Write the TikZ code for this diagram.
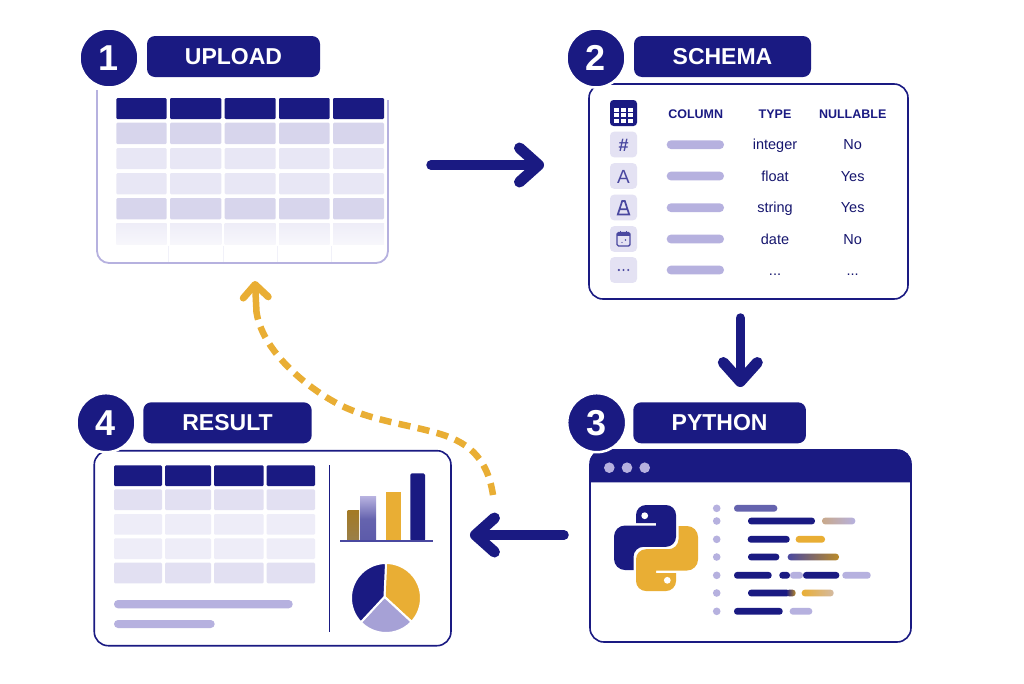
\documentclass[tikz,border=0pt]{standalone}
\usepackage{fontspec}
\setmainfont{Liberation Sans}
\usetikzlibrary{positioning, arrows.meta, calc}

\definecolor{navy}{HTML}{1A1A82}
\definecolor{gold}{HTML}{E9AE34}
\definecolor{lilac}{HTML}{B6B1DF}
\definecolor{rowA}{HTML}{D7D5EC}
\definecolor{rowB}{HTML}{E8E7F5}
\definecolor{rowC}{HTML}{E2E0F2}
\definecolor{rowD}{HTML}{EEEDF8}
\definecolor{iconbg}{HTML}{E4E2F3}
\definecolor{iconfg}{HTML}{4A48A0}
\definecolor{tan}{HTML}{C9A98A}

\newcommand{\more}{...}

\tikzset{
  panel/.style={draw=navy, line width=1.6pt, rounded corners=14pt, fill=white, inner sep=0pt, outer sep=0pt},
  badge/.style={circle, fill=navy, draw=white, line width=2.5pt, minimum size=59pt, inner sep=0pt, text=white, font=\bfseries\fontsize{36}{38}\selectfont},
  pill/.style={fill=navy, rounded corners=8pt, minimum height=41pt, inner sep=0pt, text=white, font=\bfseries\fontsize{23}{25}\selectfont},
  cell/.style={rounded corners=1.2pt},
  headtext/.style={text=navy, font=\bfseries\fontsize{12.5}{14}\selectfont},
  rowtext/.style={text=navy!85!black, font=\fontsize{14.5}{16}\selectfont, text height=10.4pt, text depth=0pt},
  icontext/.style={text=iconfg, font=\fontsize{19}{21}\selectfont},
  flow/.style={draw=navy, line width=9.5pt, line cap=round, -{Straight Barb[round, length=19pt, width=34pt, line width=11pt]}},
  backflow/.style={draw=gold, line width=6.5pt},
}

\begin{document}
\begin{tikzpicture}[x=1pt, y=-1pt]
    \useasboundingbox (0,0) rectangle (1024,683);

    % Panels
    \node[minimum width=291pt, minimum height=175pt, inner sep=0pt, outer sep=0pt] (upload) at (242.5,175.5) {};
    \node[panel, minimum width=319pt, minimum height=215pt] (schema) at (748.5,191.5) {};
    \node[panel, minimum width=321pt, minimum height=192pt] (python) at (750.5,546) {};
    \node[panel, minimum width=356.7pt, minimum height=195pt] (result) at (272.6,548.2) {};

    % Open border of the upload panel
    \draw[lilac, line width=1.8pt, rounded corners=12pt] (97,90) -- (97,263) -- (388,263) -- (388,100);

    % Upload table
    \foreach \xa/\xb in {116.3/166.7, 170/221.3, 224.7/275.7, 279/329.7, 333/384} {
      \fill[navy, cell] (\xa,98) rectangle (\xb,119);
      \foreach \ya/\yb/\c in {122.7/144/rowA, 148/169/rowB, 173/194.3/rowB, 198/219.3/rowA} {
        \fill[\c, cell] (\xa,\ya) rectangle (\xb,\yb);
      }
      \shade[top color=rowB!75!white, bottom color=rowB!35!white] (\xa,223.3) rectangle (\xb,244);
    }
    \foreach \x in {168.5, 223, 277.3, 331.3} {
      \draw[rowB!60!white, line width=.8pt] (\x,246) -- (\x,262);
    }

    % Schema icons
    \foreach \y in {144.5, 176, 207.5, 239, 270} {
      \fill[iconbg, rounded corners=4pt] (610,\y-12.8) rectangle (637,\y+12.8);
    }
    \fill[navy, rounded corners=3.5pt] (610,100) rectangle (637,126);
    \foreach \x in {614.2, 621, 627.8} {
      \foreach \y in {107.5, 113, 118.5} {
        \fill[white] (\x,\y) rectangle +(5.2,4.2);
      }
    }
    \node[icontext, font=\bfseries\fontsize{18}{20}\selectfont] (iconNum) at (623.5,145) {\#};
    \node[icontext] (iconTxt) at (623.5,176.5) {A};
    \draw[iconfg, line width=1.7pt] (617.8,214.5) -- (622.2,201) -- (624.8,201) -- (629.2,214.5) -- cycle (619.5,209.3) -- (627.5,209.3);
    \draw[iconfg, line width=1.4pt, rounded corners=1.5pt] (617,232.5) rectangle (630,246);
    \fill[iconfg] (617,232.5) rectangle (630,236);
    \draw[iconfg, line width=1.3pt] (620.5,230.5) -- (620.5,233) (626.5,230.5) -- (626.5,233);
    \fill[iconfg] (625.5,240) circle (.9pt) (622,242.5) circle (.7pt);
    \foreach \x in {618.8, 623.5, 628.2} {
      \fill[iconfg] (\x,270) circle (1.2pt);
    }

    % Schema rows
    \node[headtext] (hdrCol) at (695.7,114) {COLUMN};
    \node[headtext] (hdrType) at (775,114) {TYPE};
    \node[headtext] (hdrNull) at (852.7,114) {NULLABLE};
    \foreach \i/\y/\t/\n in {1/144.7/integer/No, 2/176/float/Yes, 3/207.7/string/Yes, 4/239/date/No, 5/270/\more/\more} {
      \fill[lilac, rounded corners=4.3pt] (666.7,\y-4.4) rectangle (724,\y+4.4);
      \node[rowtext] (type\i) at (775,\y) {\t};
      \node[rowtext] (null\i) at (852.7,\y) {\n};
    }

    % Python window
    \fill[navy] (590,482.3) [rounded corners=12pt] -- (590,450) -- (911,450) [sharp corners] -- (911,482.3) -- cycle;
    \foreach \x in {609.3, 627, 644.7} {
      \fill[lilac] (\x,467.7) circle (5.3pt);
    }

    % Python logo
    \def\snake{(636,523) [rounded corners=10pt] -- (636,505) -- (676,505) -- (676,546.8) -- (633.5,546.8) [sharp corners] -- (633.5,570) [rounded corners=11pt] -- (614,570) -- (614,525.5) [sharp corners] -- (656,525.5) -- (656,523) -- cycle}
    \fill[navy] \snake;
    \fill[white] (644.7,515.7) circle (3.4pt);
    \begin{scope}[rotate around={180:(656,548)}]
      \fill[gold] \snake;
      \fill[white] (644.7,515.7) circle (3.4pt);
    \end{scope}

    % Code lines
    \foreach \y in {508.3, 521, 539.3, 557, 575.3, 593, 611.3} {
      \fill[lilac] (716.7,\y) circle (3.8pt);
    }
    \foreach \xa/\xb/\y/\c in {734/777.3/508.3/iconfg!85!white, 748/815/521/navy, 747.7/789.7/539.3/navy, 795.7/825/539.3/gold, 748/779.3/557/navy, 734/771.7/575.3/navy, 779.3/790/575.3/navy, 803/839.3/575.3/navy, 842.3/870.7/575.3/lilac, 748/790/593/navy, 734/782.7/611.3/navy, 789.7/812.3/611.3/lilac} {
      \fill[\c, rounded corners=3.2pt] (\xa,\y-3.4) rectangle (\xb,\y+3.4);
    }
    \foreach \xa/\xb/\y/\l/\r in {822/855.3/521/tan/lilac, 787.7/839/557/iconfg/gold!80!black, 790/803/575.3/lilac/lilac, 786/795.7/593/navy/gold!80!black, 801.7/833.7/593/gold/tan!80!white} {
      \shade[left color=\l, right color=\r, rounded corners=3.2pt] (\xa,\y-3.4) rectangle (\xb,\y+3.4);
    }

    % Result table
    \foreach \xa/\xb in {114/162, 165/211, 214/263.7, 266.7/315} {
      \fill[navy, cell] (\xa,465.3) rectangle (\xb,486);
      \foreach \ya/\yb/\c in {489.3/510/rowC, 514/534.7/rowD, 538.3/559/rowD, 562.7/583.3/rowC} {
        \fill[\c, cell] (\xa,\ya) rectangle (\xb,\yb);
      }
    }
    \fill[lilac, rounded corners=4pt] (114,600) rectangle (292.7,608.3);
    \fill[lilac, rounded corners=4pt] (114,620) rectangle (214.7,628);
    \draw[navy, line width=1.5pt] (329.7,465) -- (329.7,631.5);

    % Bar chart
    \shade[top color=gold!70!black, bottom color=gold!55!black!80!white] (347.7,510.7) rectangle (359,541);
    \shade[top color=lilac, bottom color=iconfg!90!white, middle color=iconfg!85!white] (360,496.7) rectangle (376,541);
    \fill[gold] (386,492.3) rectangle (400.7,541);
    \fill[navy, rounded corners=1.5pt] (410.3,473.3) rectangle (425,541);
    \draw[iconfg, line width=1.5pt] (340,541) -- (433.3,541);

    % Pie chart
    \coordinate (pieC) at (386,598);
    \coordinate (pieJ) at (384.5,596.8);
    \foreach \a/\b/\c in {90/-43/gold, -43/-136/lilac!85!iconfg, 224/90/navy} {
      \filldraw[fill=\c, draw=white, line width=2pt] (pieJ) -- ($(pieC)+(\a:35pt)$) arc[start angle=\a, end angle=\b, radius=35pt] -- cycle;
    }

    % Step badges and titles
    \foreach \n/\x/\y/\px/\py/\w/\t in {1/109/58/233.5/56.5/173/UPLOAD, 2/596/58/722.5/56.5/177/SCHEMA, 3/596.7/422.7/719.6/422.8/172.7/PYTHON, 4/106/422.7/227.5/422.8/168.4/RESULT} {
      \node[badge] (num\n) at (\x,\y) {\n};
      \node[pill, minimum width=\w pt] (title\n) at (\px,\py) {\t};
    }

    % Flow arrows
    \draw[flow, shorten <=43pt, shorten >=45pt] ([yshift=10.5pt]upload.east) -- ([yshift=26.5pt]schema.west);
    \draw[flow, shorten <=19pt, shorten >=63pt] ([xshift=-8.2pt]schema.south) -- ([xshift=-10.2pt]python.north);
    \draw[flow, shorten <=26pt, shorten >=19pt] ([yshift=11pt]python.west) -- ([yshift=13.2pt]result.east);

    % Dashed way back
    \coordinate (backS) at (493,495);
    \coordinate (backA) at (437,433);
    \coordinate (backB) at (340,405);
    \coordinate (backE) at (256.5,312);
    \draw[backflow, dash pattern=on 12pt off 7.5pt] (backS) .. controls (487,455) and (465,441) .. (backA) .. controls (405,424) and (370,420) .. (backB) .. controls (305,387) and (262,350) .. (backE);
    \draw[backflow, line cap=round, shorten >=18pt, -{Straight Barb[round, length=13pt, width=25pt, line width=7pt]}] (backE) -- ([xshift=11.5pt]upload.south);
\end{tikzpicture}
\end{document}
